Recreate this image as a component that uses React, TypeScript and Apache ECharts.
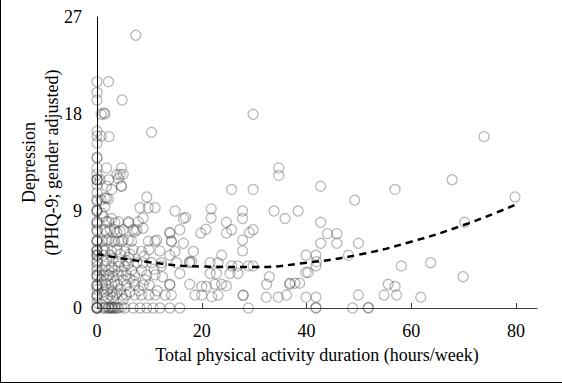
import React, { useEffect, useRef } from "react";
import * as echarts from "echarts";

// x = 0 (no physical activity) depression scores
const zeroActivityScores = [
  21.0, 20.0, 19.3, 16.4, 15.95, 15.3, 14.0, 13.9, 13.0, 12.4, 11.9, 11.9, 11.4, 10.7, 10.05,
  9.9, 9.1, 9.0, 8.0, 7.8, 7.26, 7.1, 6.3, 6.2, 5.4, 5.25, 4.9, 4.9, 4.4, 4.2, 3.85, 3.5, 3.07,
  2.9, 2.14, 2.0, 1.7, 1.2, 1.0, 0.5, 0.1, 0, 0, 0, 9.0, 8.0, 6.2, 4.9, 3.07, 2.14, 1.2, 0, 11.9, 5.4,
];

// low activity (0-16 h/week): [hours, score]
const lowActivityPoints = [
  [7.4, 25.3], [2.2, 21.0], [4.8, 19.3], [1.3, 18.1], [1.5, 18.0], [0.8, 17.97], [10.4, 16.3], [0.8, 15.95], [2.3, 15.9],
  [1.85, 13.0], [4.7, 13.0], [3.8, 12.4], [4.4, 12.4], [5.0, 12.4], [4.7, 11.3], [2.8, 11.0], [0.6, 11.9], [2.2, 11.9], [4.1, 12.0], [1.85, 11.3], [4.6, 11.3],
  [1.85, 10.2], [1.5, 10.2], [2.2, 10.1], [9.5, 10.3],
  [8.2, 9.3], [9.8, 9.3], [11.1, 9.3], [14.9, 9.0], [1.5, 9.4], [0.9, 8.8],
  [1.85, 8.0], [3.4, 7.9], [6.0, 7.9], [6.0, 8.0], [8.8, 8.35], [4.1, 8.0], [7.9, 8.0], [2.2, 8.0],
  [1.85, 7.0], [4.4, 7.1], [7.25, 7.1], [7.6, 7.26], [1.5, 7.26], [3.4, 7.26], [5.0, 7.26], [6.9, 7.26], [8.8, 7.4], [13.9, 6.95], [13.9, 7.0],
  [2.8, 6.2], [3.4, 6.2], [4.7, 6.2], [6.6, 6.2], [9.8, 6.2], [11.1, 6.2], [14.2, 6.2], [1.85, 6.3], [5.0, 6.3], [11.4, 6.3],
  [1.2, 5.4], [1.5, 5.3], [2.8, 5.25], [3.8, 5.4], [5.3, 5.25], [6.9, 5.4], [8.5, 5.25], [9.9, 5.4], [12.0, 5.3], [14.9, 5.25], [13.9, 4.9],
  [1.85, 4.4], [4.1, 4.3], [5.6, 4.4], [7.6, 4.2], [8.8, 4.2], [10.4, 4.2], [12.3, 4.2], [12.3, 3.9], [3.0, 4.6], [6.0, 4.7], [9.0, 4.8],
  [1.5, 3.85], [2.8, 3.85], [4.1, 3.85], [5.3, 3.85], [6.6, 3.5], [8.5, 3.5], [10.9, 3.6], [15.2, 4.2], [15.8, 3.2],
  [1.3, 3.07], [2.2, 3.07], [4.1, 3.07], [5.6, 3.07], [7.2, 3.07], [9.5, 3.07], [11.1, 3.07], [3.0, 2.9], [6.3, 2.7], [12.5, 2.9],
  [1.0, 2.14], [1.6, 2.14], [2.8, 2.2], [4.0, 2.14], [5.6, 2.14], [7.2, 2.14], [8.8, 2.14], [10.0, 2.14], [13.9, 2.2], [13.9, 2.14], [2.0, 1.7], [4.5, 1.7], [8.0, 1.6], [11.5, 1.6],
  [1.3, 1.2], [2.5, 1.2], [3.5, 1.2], [4.8, 1.2], [5.6, 1.2], [7.2, 1.2], [8.5, 1.2], [9.9, 1.2], [11.1, 1.2], [13.0, 1.2], [14.2, 1.2], [2.0, 1.0], [3.0, 1.0], [5.0, 0.8],
  [1.2, 0], [1.6, 0], [2.2, 0], [2.8, 0], [3.4, 0], [4.1, 0], [5.3, 0], [6.9, 0], [8.2, 0], [9.5, 0], [10.7, 0], [12.0, 0], [13.9, 0], [15.8, 0], [2.5, 0], [3.0, 0], [3.8, 0], [2.8, 0.1],
  [1.0, 6.2], [2.2, 6.3], [4.1, 6.2], [6.0, 6.3], [1.2, 4.9], [2.5, 4.9], [4.4, 5.0], [6.3, 5.0], [1.0, 3.5], [2.2, 3.5], [3.4, 3.5], [4.7, 3.4],
  [0.8, 2.6], [2.0, 2.6], [3.4, 2.5], [5.0, 2.6], [1.3, 1.5], [2.8, 1.5], [3.8, 1.4], [6.3, 1.5], [1.6, 0.1], [2.2, 0.05], [3.4, 0.1], [4.7, 0.1],
  [2.5, 7.3], [3.8, 7.0], [1.2, 8.5], [2.8, 8.3], [0.8, 10.0], [6.0, 4.1], [7.0, 2.5], [9.2, 2.6],
];

// higher activity (>16 h/week): [hours, score]
const highActivityPoints = [
  [29.8, 17.97], [73.9, 15.9], [34.7, 13.0], [34.7, 12.3], [25.7, 11.0], [29.8, 11.0], [42.7, 11.3], [56.9, 11.0], [67.8, 11.9], [79.8, 10.3], [49.2, 10.0],
  [16.5, 8.3], [21.8, 9.2], [21.8, 8.35], [27.8, 9.0], [27.8, 8.3], [33.8, 9.0], [35.9, 8.3], [38.4, 9.0], [16.9, 8.4],
  [24.7, 7.95], [25.7, 7.26], [24.7, 6.95], [20.8, 7.3], [19.8, 6.95], [15.8, 7.26], [14.2, 6.2], [16.5, 6.0], [29.1, 7.0], [29.8, 7.26], [27.8, 6.3], [27.8, 5.3],
  [42.7, 7.95], [70.2, 7.95], [44.0, 6.9], [45.8, 6.9], [42.7, 6.0], [45.8, 6.0], [49.9, 6.0],
  [18.4, 5.25], [23.8, 4.9], [39.9, 4.9], [41.8, 4.9], [48.0, 4.9],
  [23.1, 4.2], [25.7, 3.9], [26.9, 3.9], [28.9, 3.9], [29.8, 3.9], [21.6, 4.2], [17.7, 4.2], [17.7, 4.3], [18.1, 4.3], [41.9, 4.3], [41.8, 3.9], [58.1, 3.9], [63.7, 4.2],
  [21.6, 3.2], [22.8, 3.2], [25.4, 3.2], [26.9, 3.2], [32.9, 2.9], [39.9, 3.3], [40.3, 3.3], [69.9, 2.9],
  [17.7, 2.2], [20.0, 2.0], [20.9, 2.0], [22.5, 2.2], [23.8, 2.2], [24.7, 2.05], [32.4, 2.2], [36.8, 2.3], [36.8, 2.2], [37.8, 2.3], [38.7, 2.3], [55.6, 2.2], [56.9, 2.0],
  [18.7, 1.2], [20.0, 1.2], [21.9, 1.05], [23.1, 1.2], [27.9, 1.2], [27.9, 1.15], [32.3, 1.0], [34.6, 1.0], [36.2, 1.2], [39.9, 1.0], [41.8, 1.0], [49.9, 1.2], [54.8, 1.2], [57.2, 1.2], [61.8, 1.0],
  [28.9, 0], [41.8, 0], [41.8, 0.05], [48.8, 0], [51.8, 0], [51.8, 0.05],
];

// fitted trend
const fitHours = [0, 10, 20, 30, 40, 50, 60, 70, 80];
const fitScores = [5.0, 4.25, 3.85, 3.8, 4.2, 4.95, 6.15, 7.7, 9.6];

const xTicks = [0, 20, 40, 60, 80];
const yTicks = [0, 9, 18, 27];

const FONT = "'Liberation Serif', 'Times New Roman', serif";

export default function App() {
  const ref = useRef<HTMLDivElement>(null);
  useEffect(() => {
    if (!ref.current) return;
    const chart = echarts.init(ref.current, undefined, { renderer: "svg" });
    const scatterData = [
      ...zeroActivityScores.map((y) => [0, y]),
      ...lowActivityPoints,
      ...highActivityPoints,
    ];
    chart.setOption({
      animation: false,
      backgroundColor: "#fff",
      grid: { left: 97, top: 17, right: 25, bottom: 75, containLabel: false },
      xAxis: {
        type: "value",
        min: 0,
        max: 84,
        splitLine: { show: false },
        axisLine: { show: true, lineStyle: { color: "#404040", width: 1 } },
        axisTick: { show: true, inside: true, length: 5, customValues: xTicks, lineStyle: { color: "#404040" } },
        axisLabel: { customValues: xTicks, fontFamily: FONT, fontSize: 18, color: "#000", margin: 14 },
        name: "Total physical activity duration (hours/week)",
        nameLocation: "middle",
        nameGap: 38,
        nameMoveOverlap: false,
        nameTextStyle: { fontFamily: FONT, fontSize: 18, color: "#000" },
      },
      yAxis: {
        type: "value",
        min: 0,
        max: 27,
        interval: 9,
        splitLine: { show: false },
        axisLine: { show: true, lineStyle: { color: "#000", width: 1 } },
        axisTick: { show: false },
        axisLabel: {
          fontFamily: FONT,
          fontSize: 18,
          color: "#000",
          margin: 15,
          formatter: (v: number) => (yTicks.includes(v) ? String(v) : ""),
        },
        name: "Depression\n(PHQ-9; gender adjusted)",
        nameLocation: "middle",
        nameGap: 34,
        nameMoveOverlap: false,
        nameTextStyle: { fontFamily: FONT, fontSize: 18, color: "#000", lineHeight: 23 },
      },
      series: [
        {
          type: "scatter",
          data: scatterData,
          symbol: "circle",
          symbolSize: 10,
          clip: false,
          itemStyle: { color: "rgba(0,0,0,0)", borderColor: "rgba(60,60,60,0.45)", borderWidth: 1.3 },
          z: 2,
        },
        {
          type: "line",
          data: fitHours.map((x, i) => [x, fitScores[i]]),
          smooth: true,
          showSymbol: false,
          symbol: "none",
          lineStyle: { color: "#000", width: 2.5, type: [7, 5] },
          z: 3,
        },
      ],
      graphic: [
        { type: "line", shape: { x1: 0.5, y1: 0, x2: 0.5, y2: 383 }, style: { stroke: "#000", lineWidth: 1 } },
        { type: "line", shape: { x1: 0, y1: 382.5, x2: 562, y2: 382.5 }, style: { stroke: "#000", lineWidth: 1 } },
      ],
    });
    return () => chart.dispose();
  }, []);
  return (
    <div
      ref={ref}
      style={{ position: "fixed", left: 0, top: 0, width: 562, height: 383 }}
    />
  );
}
